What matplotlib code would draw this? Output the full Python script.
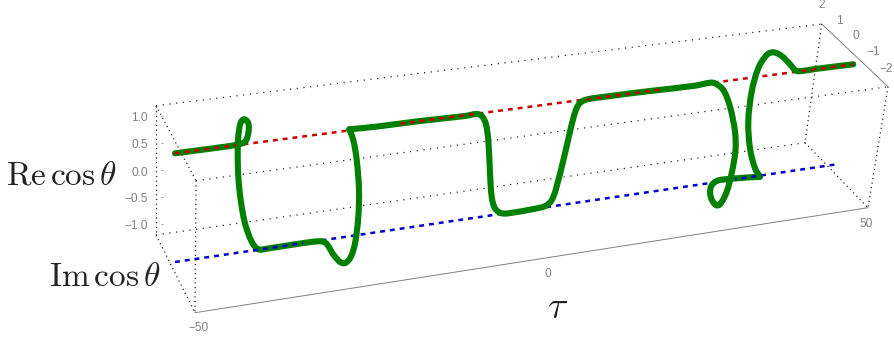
import numpy as np
import matplotlib
matplotlib.use("Agg")
import matplotlib.pyplot as plt
from matplotlib.path import Path
from matplotlib.patches import PathPatch, Rectangle

WIDTH, HEIGHT = 894, 338

curve_a_x = [175, 200, 225, 236.7, 245, 248.3, 248.3, 244.3, 240.7, 238.3, 237.7, 238.3, 240.7, 245, 251.7, 258.3,
             266.7, 301.7, 321.7, 326.7, 335, 343.3, 350, 355, 358.3, 359, 356.7, 353.3, 349.3]
curve_a_y = [153.3, 150, 146.7, 144.7, 141.7, 133.3, 123.3, 119.3, 122.7, 136.7, 153.3, 176.7, 200, 223.3, 241.7, 249.3,
             248.7, 243.3, 241.3, 244, 256.7, 263.3, 258.3, 243.3, 216.7, 190, 160, 140, 129.3]
curve_b_x = [349.3, 375, 420, 465, 476.7, 481.7, 485.7, 488.3, 490, 491.7, 495, 501.7, 515, 541.7, 547, 551.5,
             555.7, 565, 573.3, 578.3, 585, 605, 650, 695, 710, 715, 723.3, 730, 735, 735.5, 732, 726.7, 720,
             715.7, 710.7, 711, 716.7, 728.3, 760]
curve_b_y = [129.3, 126.8, 121, 116, 114, 116, 123.3, 140, 173.3, 196.7, 208.3, 213.3, 212.3, 207.3, 205, 200.5,
             190, 153.3, 118.3, 105, 100, 96.7, 91, 85.7, 82.7, 83.3, 90, 106.7, 131.7, 150, 171.7, 191.7, 204.3,
             205, 196.7, 186.7, 181, 179, 176.7]
curve_c_x = [760, 755, 750, 748.3, 751.7, 758.3, 766.7, 773.3, 781.7, 790, 796, 801.7, 815, 853.3]
curve_c_y = [176.7, 168.3, 148.3, 121.7, 91.7, 68.3, 55, 52.3, 56, 64.3, 70.7, 71, 69, 64.3]

red_x, red_y = [175, 853.3], [153.3, 64.3]
blue_x, blue_y = [175, 836.7], [262, 164.3]

dotted_long = [((156, 105.7), (821.7, 24)), ((196, 180.7), (888, 86.7)), ((156, 235), (805, 142.7))]
dotted_short = [((156, 105.7), (156, 235)), ((196, 180.7), (195, 312.7)), ((156, 105.7), (196, 180.7)),
                ((156, 235), (195, 312.7)), ((888, 86.7), (868, 207.7)), ((821.7, 24), (805, 142.7)),
                ((805, 142.7), (868, 207.7))]
solid_edges = [((195, 312.7), (868, 207.7)), ((821.7, 24), (888, 86.7))]

re_ticks = ["1.0", "0.5", "0.0", "\u22120.5", "\u22121.0"]
re_tick_y = [118, 145, 172.5, 199, 226]
re_mark_y = [116, 143.3, 170, 197, 224]
im_ticks = ["2", "1", "0", "\u22121", "\u22122"]
im_tick_x = [822, 839, 856, 873, 886]
im_tick_y = [5, 21, 36, 52, 69]
tau_ticks = ["\u221250", "0", "50"]
tau_tick_x = [198, 548, 866]
tau_tick_y = [328, 274, 224]

GREEN, RED, BLUE = "#008000", "#c80000", "#0000c8"
GRAY = "#808080"


def smooth_path(x, y):
    p = np.column_stack([x, y]).astype(float)
    n = len(p)
    tan = np.zeros_like(p)
    for i in range(n):
        d = p[min(i + 1, n - 1)] - p[max(i - 1, 0)]
        tan[i] = d / np.hypot(*d)
    verts, codes = [p[0]], [Path.MOVETO]
    for i in range(n - 1):
        h = np.hypot(*(p[i + 1] - p[i])) / 3
        verts += [p[i] + tan[i] * h, p[i + 1] - tan[i + 1] * h, p[i + 1]]
        codes += [Path.CURVE4] * 3
    return Path(verts, codes)


fig = plt.figure(figsize=(WIDTH / 100, HEIGHT / 100), dpi=100)
ax = fig.add_axes([0, 0, 1, 1])
ax.set_xlim(0, WIDTH)
ax.set_ylim(HEIGHT, 0)
ax.axis("off")

for edges, style in ((dotted_long, (0, (0.9, 4.5))), (dotted_short, (0, (0.9, 2.8)))):
    for a, b in edges:
        ax.plot([a[0], b[0]], [a[1], b[1]], color="#111111", lw=0.9, linestyle=style, zorder=1)
for a, b in solid_edges:
    ax.plot([a[0], b[0]], [a[1], b[1]], color="#808080", lw=0.7, zorder=1)
for y in re_mark_y:
    ax.plot([161, 163], [y, y], color="#bbbbbb", lw=0.7, zorder=1)

dash = (0, (1.95, 2.0))
ax.plot(red_x, red_y, color=RED, lw=1.8, linestyle=dash, dash_capstyle="butt", zorder=2)
ax.plot(blue_x, blue_y, color=BLUE, lw=1.8, linestyle=dash, dash_capstyle="butt", zorder=2)

for cx, cy in ((curve_a_x, curve_a_y), (curve_b_x, curve_b_y), (curve_c_x, curve_c_y)):
    ax.add_patch(PathPatch(smooth_path(cx, cy), fill=False, edgecolor=GREEN, lw=4.4,
                           capstyle="round", joinstyle="round", zorder=3))

# dashes that show through the tube
for xs, ys, col, spans in ((red_x, red_y, RED, [(170, 236), (400, 478), (587, 660), (797, 856)]),
                           (blue_x, blue_y, BLUE, [(253, 303), (735, 762)])):
    for x0, x1 in spans:
        ln, = ax.plot(xs, ys, color=col, lw=1.8, linestyle=dash, dash_capstyle="butt", zorder=4)
        ln.set_clip_path(Rectangle((x0, 0), x1 - x0, HEIGHT, transform=ax.transData))

tick_font = dict(family="Liberation Sans", fontsize=8.6, color=GRAY)
for s, y in zip(re_ticks, re_tick_y):
    ax.text(147.5, y, s, ha="right", va="center", **tick_font)
for s, x, y in zip(im_ticks, im_tick_x, im_tick_y):
    ax.text(x, y, s, ha="center", va="center", **tick_font)
for s, x, y in zip(tau_ticks, tau_tick_x, tau_tick_y):
    ax.text(x, y, s, ha="center", va="center", **tick_font)

label = dict(fontsize=24, color="#222222", math_fontfamily="cm")
ax.text(61, 175, r"$\mathrm{Re}\,\cos\theta$", ha="center", va="center", **label)
ax.text(105, 277, r"$\mathrm{Im}\,\cos\theta$", ha="center", va="center", **label)
ax.text(558, 308, r"$\tau$", ha="center", va="center", fontsize=27, color="#222222", math_fontfamily="cm")

fig.savefig("out.png", dpi=100)
